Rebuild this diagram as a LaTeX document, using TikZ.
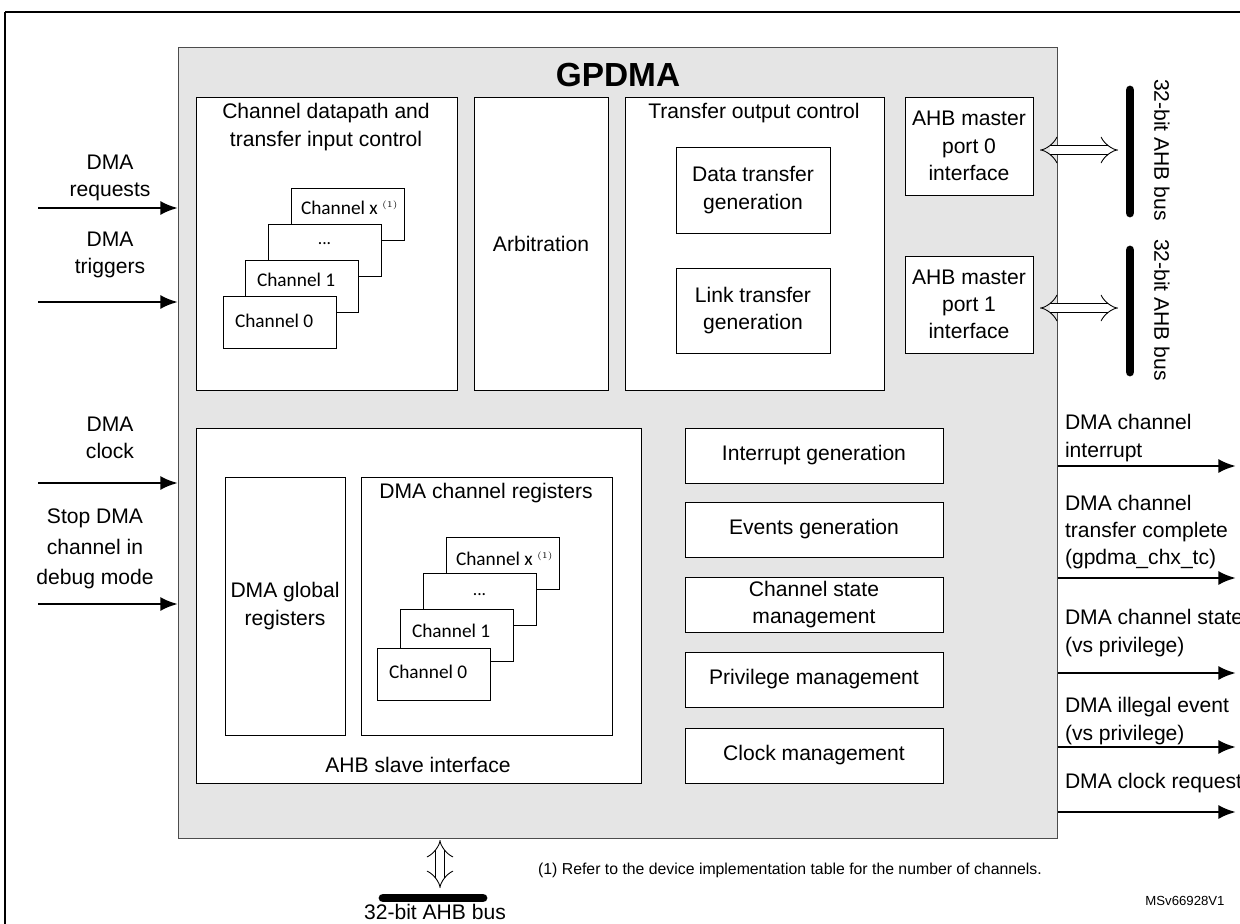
\documentclass[tikz,border=0pt]{standalone}
\usepackage{fontspec}
\setmainfont{Liberation Sans}
\newfontfamily\chanfont{Carlito}
\usetikzlibrary{arrows.meta}
\begin{document}
\begin{tikzpicture}[x=0.02cm,y=-0.02cm,inner sep=0pt,outer sep=0pt,
txt/.style={font=\fontsize{12}{15.5}\selectfont,align=center},
chtxt/.style={anchor=west,font=\chanfont\fontsize{11}{12}\selectfont},
blk/.style={draw,thin,fill=white,rectangle,anchor=north west},
chan/.style={draw,thin,fill=white,rectangle,anchor=north west,minimum width=2.26cm,minimum height=1.04cm},
sig/.style={line width=1.6pt,-{Latex[length=10pt,width=8pt]}},
bus/.style={line width=5pt,line cap=round},
dbl/.style={draw=black,double=white,line width=0.5pt,double distance=5pt,{Implies}-{Implies}}]
\useasboundingbox (0,0) rectangle (1240,923);

% frame and main block
\draw[line width=1.2pt] (5,12) -- (1242,12) (5,12) -- (5,925);
\draw (178,47) node[blk,draw=black!70,fill=black!10,minimum width=17.6cm,minimum height=15.82cm] (gpdma) {};
\draw (618,75) node[font=\fontsize{19}{21}\selectfont\bfseries] (title) {GPDMA};

% channel datapath
\draw (196,97) node[blk,minimum width=5.22cm,minimum height=5.86cm] (dpath) {};
\draw (326,127) node[txt] (dpathL) {Channel datapath and\\transfer input control};
\draw (291,188) node[chan] (cx) {};
\draw (268,224) node[chan] (cdots) {};
\draw (245,260) node[chan] (c1) {};
\draw (223,296) node[chan] (c0) {};
\draw (cx.north west) ++(10,20) node[chtxt] {Channel x $^{\scriptscriptstyle(1)}$};
\draw (cdots.north) ++(0,20) node[font=\chanfont] {...};
\draw (c1.north west) ++(12,20) node[chtxt] {Channel 1};
\draw (c0.north west) ++(12,25) node[chtxt] {Channel 0};

% arbitration and transfer output
\draw (474,97) node[blk,minimum width=2.68cm,minimum height=5.86cm] (arb) {};
\draw (arb.center) node[txt] {Arbitration};
\draw (625,97) node[blk,minimum width=5.18cm,minimum height=5.86cm] (xout) {};
\draw (754,113) node[txt] (xoutL) {Transfer output control};
\draw (676,147) node[blk,minimum width=3.08cm,minimum height=1.72cm] (dgen) {};
\draw (dgen.center) node[txt] {Data transfer\\generation};
\draw (676,268) node[blk,minimum width=3.08cm,minimum height=1.7cm] (lgen) {};
\draw (lgen.center) node[txt] {Link transfer\\generation};

% master ports and buses
\draw (905,97) node[blk,minimum width=2.56cm,minimum height=1.96cm] (m0) {};
\draw (m0.center) node[txt] {AHB master\\port 0\\interface};
\draw (905,256) node[blk,minimum width=2.56cm,minimum height=1.94cm] (m1) {};
\draw (m1.center) node[txt] {AHB master\\port 1\\interface};
\coordinate (b0t) at (1130,90); \coordinate (b0b) at (1130,213);
\coordinate (b1t) at (1130,250); \coordinate (b1b) at (1130,372);
\draw[bus] (b0t) -- (b0b);
\draw[bus] (b1t) -- (b1b);
\draw[dbl] (1040,150) -- (1118,150);
\draw[dbl] (1040,308) -- (1118,308);
\draw (1162,150) node[txt,rotate=-90] {32-bit AHB bus};
\draw (1162,310) node[txt,rotate=-90] {32-bit AHB bus};

% slave interface
\draw (196,428) node[blk,minimum width=8.9cm,minimum height=7.1cm] (slave) {};
\draw (418,765) node[txt] {AHB slave interface};
\draw (225,477) node[blk,minimum width=2.4cm,minimum height=5.16cm] (glob) {};
\draw (glob.center) node[txt] {DMA global\\registers};
\draw (361,477) node[blk,minimum width=5.02cm,minimum height=5.16cm] (creg) {};
\draw (486,493) node[txt] {DMA channel registers};
\draw (446,537) node[chan] (rx) {};
\draw (423,573) node[chan] (rdots) {};
\draw (400,609) node[chan] (r1) {};
\draw (377,648) node[chan] (r0) {};
\draw (rx.north west) ++(10,22) node[chtxt] {Channel x $^{\scriptscriptstyle(1)}$};
\draw (rdots.north) ++(0,22) node[font=\chanfont] {...};
\draw (r1.north west) ++(12,22) node[chtxt] {Channel 1};
\draw (r0.north west) ++(12,24) node[chtxt] {Channel 0};

% right column
\foreach \y/\n/\t in {428/intg/Interrupt generation,502/evg/Events generation,577/csm/Channel state\\management,652/prm/Privilege management,728/clm/Clock management}{
  \draw (685,\y) node[blk,minimum width=5.16cm,minimum height=1.1cm] (\n) {};
  \draw (\n.center) node[txt] {\t};
}

% inputs
\foreach \y/\n in {208/req,302/trg,483/clk,604/dbg}{
  \coordinate (\n) at (38,\y);
  \draw[sig] (\n) -- (\n -| gpdma.west);
}
\draw (110,178) node[txt] {DMA\\requests};
\draw (110,255) node[txt] {DMA\\triggers};
\draw (110,438) node[txt] {DMA\\clock};
\draw (95,549) node[txt,font=\fontsize{12}{17.5}\selectfont] {Stop DMA\\channel in\\debug mode};

% outputs
\foreach \y/\n in {466/oint,578/otc,673/ost,747/oill,812/oclk}{
  \coordinate (\n) at (1236,\y);
  \draw[sig] (\n -| gpdma.east) -- (\n);
}
\draw (1065,438) node[txt,anchor=west,align=left] {DMA channel\\interrupt};
\draw (1065,532) node[txt,anchor=west,align=left] {DMA channel\\transfer complete\\(gpdma\_chx\_tc)};
\draw (1065,633) node[txt,anchor=west,align=left] {DMA channel state\\(vs privilege)};
\draw (1065,721) node[txt,anchor=west,align=left] {DMA illegal event\\(vs privilege)};
\draw (1065,783) node[txt,anchor=west,align=left] {DMA clock request};

% bottom bus
\coordinate (bl) at (383,898); \coordinate (br) at (483,898);
\draw[bus] (bl) -- (br);
\draw[dbl] (440,840) -- (440,888);
\draw (435,912) node[txt] {32-bit AHB bus};
\draw (790,870) node[font=\fontsize{9}{10}\selectfont] {(1) Refer to the device implementation table for the number of channels.};
\draw (1185,901) node[font=\fontsize{7.5}{9}\selectfont] {MSv66928V1};
\end{tikzpicture}
\end{document}
